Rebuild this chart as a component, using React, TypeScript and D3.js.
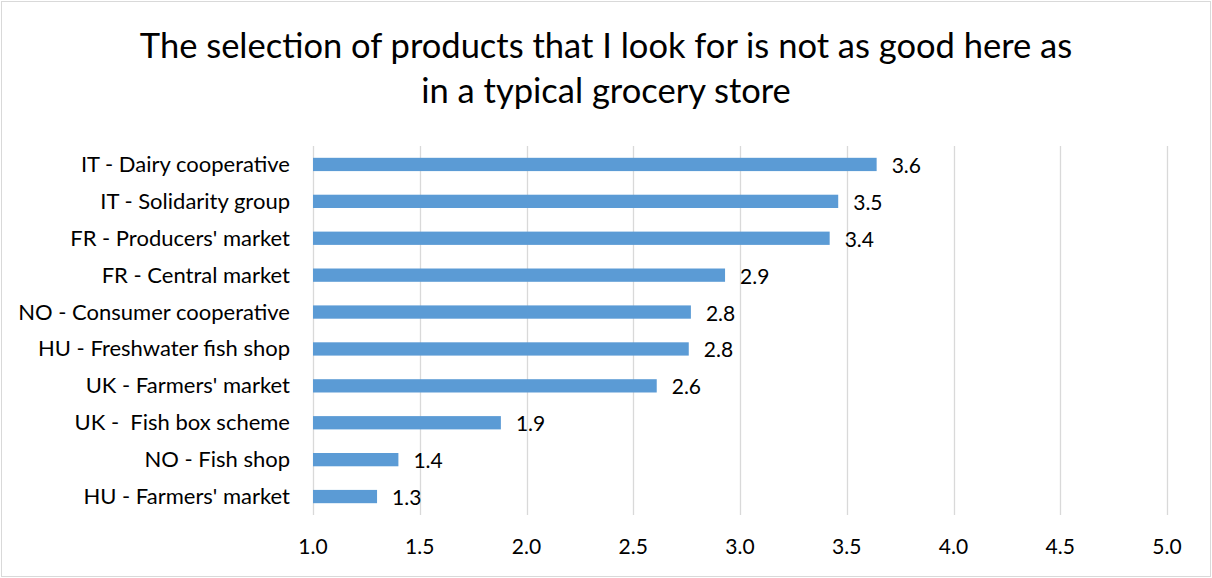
import React from "react";
import * as d3 from "d3";

const categories: string[] = [
  "IT - Dairy cooperative",
  "IT - Solidarity group",
  "FR - Producers' market",
  "FR - Central market",
  "NO - Consumer cooperative",
  "HU - Freshwater fish shop",
  "UK - Farmers' market",
  "UK -  Fish box scheme",
  "NO - Fish shop",
  "HU - Farmers' market",
];
const values: number[] = [3.64, 3.46, 3.42, 2.93, 2.77, 2.76, 2.61, 1.88, 1.4, 1.3];
const xTicks: number[] = [1.0, 1.5, 2.0, 2.5, 3.0, 3.5, 4.0, 4.5, 5.0];
const titleLines: string[] = [
  "The selection of products that I look for is not as good here as",
  "in a typical grocery store",
];

const W = 1212;
const H = 578;
const FONT = "Lato, 'Open Sans', sans-serif";

export default function App() {
  const x = d3.scaleLinear().domain([1, 5]).range([313, 1167]);
  const y = d3
    .scaleBand<string>()
    .domain(categories)
    .range([146, 515])
    .paddingInner(0.64)
    .paddingOuter(0.32);
  const fmt = d3.format(".1f");
  const plotTop = 146;
  const plotBottom = 515;

  return (
    <svg
      width={W}
      height={H}
      style={{ position: "absolute", left: 0, top: 0, display: "block" }}
      fontFamily={FONT}
    >
      <rect x={0} y={0} width={W} height={H} fill="#ffffff" />
      <rect x={1.5} y={1.5} width={W - 3} height={H - 3} fill="none" stroke="#d9d9d9" strokeWidth={1} />
      {titleLines.map((t, i) => (
        <text
          key={i}
          x={606}
          y={58 + i * 45}
          textAnchor="middle"
          fontSize={34.5}
          fill="#000"
        >
          {t}
        </text>
      ))}
      {xTicks.map((t) => (
        <g key={t}>
          <line
            x1={Math.round(x(t)) + 0.5}
            x2={Math.round(x(t)) + 0.5}
            y1={plotTop}
            y2={plotBottom}
            stroke="#d9d9d9"
            strokeWidth={1.3}
          />
          <text x={x(t)} y={554} textAnchor="middle" fontSize={21} fill="#000">
            {fmt(t)}
          </text>
        </g>
      ))}
      {categories.map((c, i) => {
        const yy = y(c) as number;
        const bh = y.bandwidth();
        const cy = yy + bh / 2;
        return (
          <g key={c}>
            <rect
              x={x(1)}
              y={yy}
              width={x(values[i]) - x(1)}
              height={bh}
              fill="#5b9bd5"
            />
            <text
              x={290}
              y={cy + 7.5}
              textAnchor="end"
              fontSize={22}
              fill="#000"
              style={{ whiteSpace: "pre" }}
            >
              {c}
            </text>
            <text
              x={x(values[i]) + 15}
              y={cy + 8.5}
              textAnchor="start"
              fontSize={21}
              fill="#000"
            >
              {fmt(values[i])}
            </text>
          </g>
        );
      })}
    </svg>
  );
}
